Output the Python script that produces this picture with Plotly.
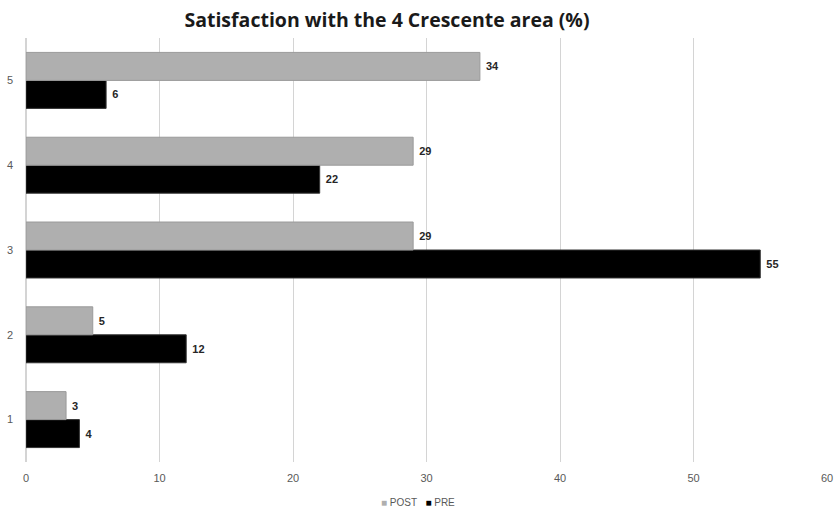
import plotly.graph_objects as go

# Satisfaction ratings (1-5) and share of respondents (%)
ratings = ["1", "2", "3", "4", "5"]
pre_values = [4, 12, 55, 22, 6]
post_values = [3, 5, 29, 29, 34]
x_ticks = [0, 10, 20, 30, 40, 50, 60]

PRE_COLOR = "#000000"
POST_COLOR = "#afafaf"
narrow = "Liberation Sans Narrow, Arial Narrow, sans-serif"
label_font = dict(family=narrow, size=11, color="#595959")
value_font = dict(family=narrow, size=11, color="#262626", weight="bold")

fig = go.Figure()
fig.add_trace(go.Bar(
    name="PRE", y=ratings, x=pre_values, orientation="h",
    marker=dict(color=PRE_COLOR, line=dict(color="#333333", width=1)),
    texttemplate=" %{x}", textposition="outside", cliponaxis=False,
    textfont=value_font,
))
fig.add_trace(go.Bar(
    name="POST", y=ratings, x=post_values, orientation="h",
    marker=dict(color=POST_COLOR, line=dict(color="#9a9a9a", width=1)),
    texttemplate=" %{x}", textposition="outside", cliponaxis=False,
    textfont=value_font,
))

# Compact legend line under the axis
legend_text = (
    f"<span style='color:{POST_COLOR}'>■</span> POST&nbsp;&nbsp;&nbsp;"
    f"<span style='color:{PRE_COLOR}'>■</span> PRE"
)
fig.add_annotation(
    text=legend_text, xref="paper", yref="paper", x=(418 - 26) / (827 - 26), y=-0.095,
    xanchor="center", yanchor="middle", showarrow=False,
    font=dict(family=narrow, size=10, color="#595959"),
)

fig.update_layout(
    width=835, height=511,
    margin=dict(l=26, r=8, t=38, b=49),
    paper_bgcolor="white", plot_bgcolor="white",
    barmode="group", bargap=0.34, bargroupgap=0,
    showlegend=False,
    title=dict(
        text="<b>Satisfaction with the 4 Crescente area (%)</b>",
        x=387 / 835, xanchor="center", y=0.96, yanchor="middle",
        font=dict(family="Open Sans, sans-serif", size=19.5, color="#1a1a1a"),
    ),
    xaxis=dict(
        range=[0, 60], tickvals=x_ticks, showgrid=True, gridcolor="#d4d4d4", gridwidth=1,
        zeroline=True, zerolinecolor="#d4d4d4", showline=False, automargin=False,
        tickfont=label_font, ticks="", ticklabelstandoff=8,
    ),
    yaxis=dict(
        type="category", categoryorder="array", categoryarray=ratings,
        showgrid=False, zeroline=False, showline=False, ticks="", automargin=False,
        tickfont=label_font, ticklabelstandoff=12,
    ),
)

fig.write_html("out.html")
